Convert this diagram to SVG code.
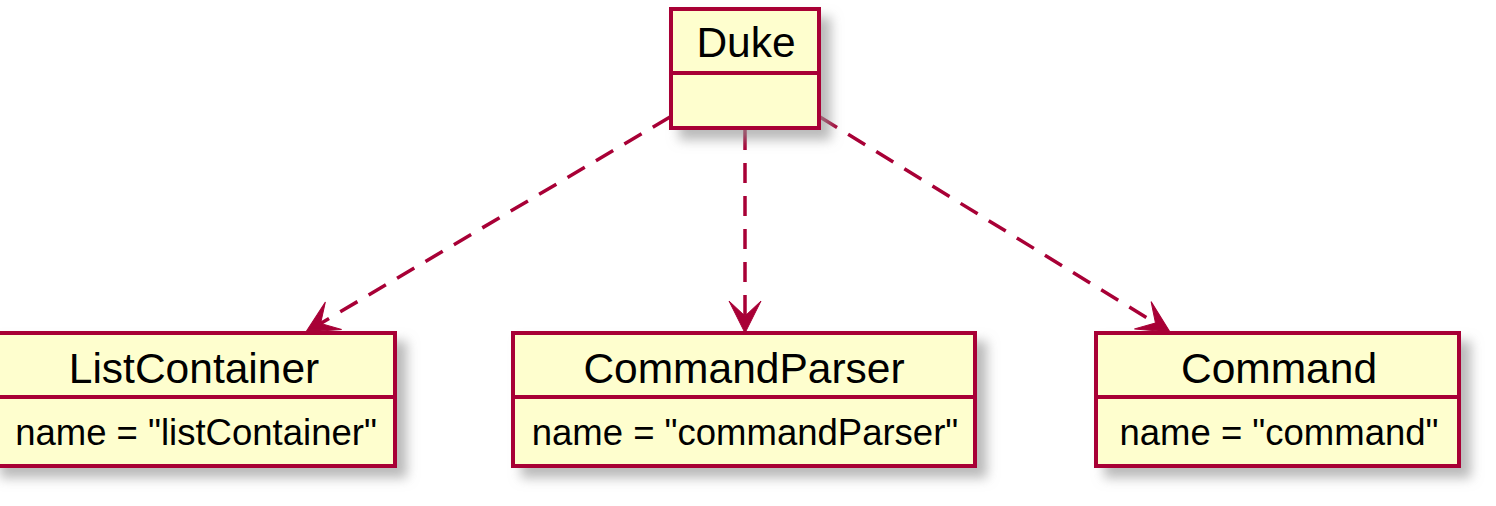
<svg xmlns="http://www.w3.org/2000/svg" width="1496" height="506" viewBox="0 0 1496 506">
<style>
.box{fill:#FEFECE;stroke:#A80036;stroke-width:4}
.sep{stroke:#A80036;stroke-width:4}
.title{font-family:"Liberation Sans",Arial,sans-serif;font-size:42.5px;fill:#000;text-anchor:middle}
.attr{font-family:"Liberation Sans",Arial,sans-serif;font-size:36.5px;fill:#000;text-anchor:middle}
.dep{fill:none;stroke:#A80036;stroke-width:3.5;stroke-dasharray:20 13}
</style>
<defs>
<filter id="shadow" x="-20%" y="-20%" width="150%" height="150%">
<feGaussianBlur in="SourceAlpha" stdDeviation="6"/>
<feOffset dx="10" dy="10" result="b"/>
<feColorMatrix in="b" type="matrix" values="0 0 0 0 0.3  0 0 0 0 0.3  0 0 0 0 0.3  0 0 0 0.65 0"/>
<feMerge><feMergeNode/><feMergeNode in="SourceGraphic"/></feMerge>
</filter>
<marker id="arrow" markerUnits="userSpaceOnUse" markerWidth="40" markerHeight="40" viewBox="0 0 40 40" refX="17" refY="20" orient="auto">
<path d="M34 20 L2 4 L17 20 L2 36 Z" fill="#A80036" stroke="#A80036" stroke-width="1"/>
</marker>
</defs>
<g id="connectors">
<path class="dep" d="M670 117 L320.6 323.4" marker-end="url(#arrow)"/>
<path class="dep" d="M745 130 L745 316" marker-end="url(#arrow)"/>
<path class="dep" d="M820 117 L1155.5 323.1" marker-end="url(#arrow)"/>
</g>
<g id="Duke">
<rect class="box" x="671" y="9" width="148" height="119" filter="url(#shadow)"/>
<line class="sep" x1="671" y1="73" x2="819" y2="73"/>
<text class="title" x="746" y="57">Duke</text>
</g>
<g id="ListContainer">
<rect class="box" x="-8" y="333" width="403" height="133" filter="url(#shadow)"/>
<line class="sep" x1="-8" y1="397" x2="395" y2="397"/>
<text class="title" x="194" y="383">ListContainer</text>
<text class="attr" x="196" y="445">name = "listContainer"</text>
</g>
<g id="CommandParser">
<rect class="box" x="513" y="333" width="462" height="133" filter="url(#shadow)"/>
<line class="sep" x1="513" y1="397" x2="975" y2="397"/>
<text class="title" x="744" y="383">CommandParser</text>
<text class="attr" x="745" y="445">name = "commandParser"</text>
</g>
<g id="Command">
<rect class="box" x="1096" y="333" width="363" height="133" filter="url(#shadow)"/>
<line class="sep" x1="1096" y1="397" x2="1459" y2="397"/>
<text class="title" x="1279" y="383">Command</text>
<text class="attr" x="1279" y="445">name = "command"</text>
</g>
</svg>
